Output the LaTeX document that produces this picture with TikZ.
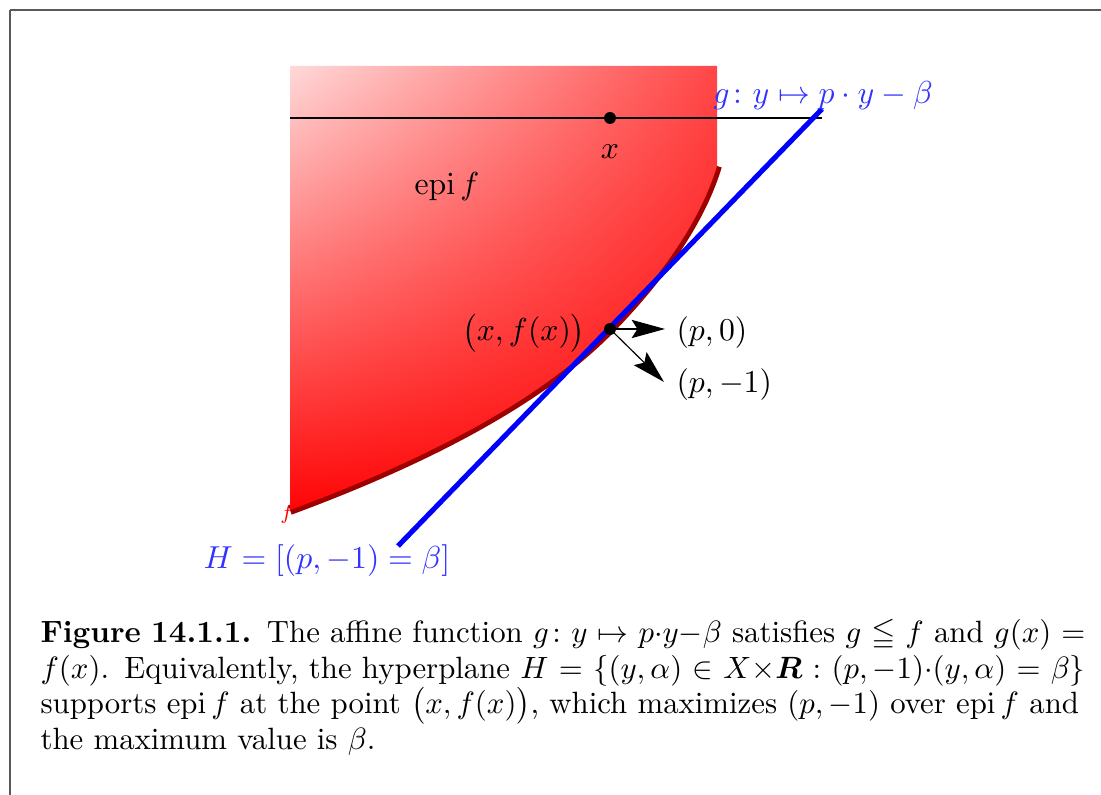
\documentclass[tikz,border=0pt]{standalone}
\usepackage{amsmath,amssymb,bm}
\usetikzlibrary{arrows.meta,shadings}
\newcommand{\figfont}{\fontsize{10.95}{12.25}\selectfont}
\newcommand{\capfont}{\fontsize{10.95}{12.62}\selectfont}
\newcommand{\capline}[1]{\hbox to\linewidth{#1}}
\begin{document}
\begin{tikzpicture}[x=0.3448pt,y=-0.3448pt,
  lbl/.style={inner sep=0pt, font=\figfont},
  bluelbl/.style={lbl, text=blue!80},
  vec/.style={-{Stealth[length=11.5pt,width=6.3pt,inset=2pt]}, line width=0.4pt},
  blackdot/.style={circle, fill=black, inner sep=0pt, minimum size=4.1pt},
  frameline/.style={black!65, line width=0.6pt},
  hyper/.style={blue, line width=1.75pt},
  graphf/.style={red!62!black, line width=3.4pt}]
\useasboundingbox (0,0) rectangle (1101,795);
% frame
\draw[frameline] (10,10) -- (1101,10);
\draw[frameline] (10,10) -- (10,795);
% small label f at end of graph
\node[inner sep=0pt, text=red, font=\scriptsize] (fl) at (287,514) {$f$};
% graph of f (dark red) below the fill
\draw[graphf] (290,510) .. controls (440,454.5) and (546.7,394.1) .. (610,329)
  .. controls (665.8,271.5) and (701.5,217.2) .. (717,166);
% epigraph
\shade[upper left=red!15, upper right=red!72, lower left=red!98, lower right=red]
  (290,66) -- (717,66) -- (717,166) .. controls (701.5,217.2) and (665.8,271.5) .. (610,329)
  .. controls (546.7,394.1) and (440,454.5) .. (290,510) -- cycle;
% horizontal space X
\coordinate (Xl) at (290,118);
\coordinate (Xr) at (822,118);
\draw[line width=0.4pt] (Xl) -- (Xr);
\node[blackdot] (xdot) at (610,118) {};
\node[lbl] (xl) at (610,152) {$x$};
\node[lbl] (epi) at (447,187) {$\operatorname{epi} f$};
% hyperplane
\coordinate (Hb) at (398,546);
\coordinate (Ht) at (822,109);
\draw[hyper] (Hb) -- (Ht);
\node[bluelbl] (gl) at (823,96) {$g\colon y\mapsto p\cdot y-\beta$};
\node[bluelbl] (Hl) at (327,561) {$H=[(p,-1)=\beta]$};
% point (x,f(x)) and vectors
\node[blackdot] (P) at (610,329) {};
\coordinate (A0) at (665,329);
\coordinate (A1) at (664,382);
\draw[vec] (P.center) -- (A0);
\draw[vec] (P.center) -- (A1);
\node[lbl, anchor=east] (xfx) at (586,333) {$\bigl(x,f(x)\bigr)$};
\node[lbl, anchor=west] (p0) at (676,333) {$(p,0)$};
\node[lbl, anchor=west] (pm1) at (676,385) {$(p,-1)$};
% caption
\node[anchor=north west, inner sep=0pt, scale=0.97, transform shape, text width=371.4pt, font=\capfont] (cap) at (40,619)
{\capline{\textbf{Figure 14.1.1.} The affine function $g\colon y\mapsto p{\cdot}y{-}\beta$ satisfies $g\leqq f$ and $g(x) =$}
\capline{$f(x)$. Equivalently, the hyperplane $H=\{(y,\alpha)\in X{\times}\boldsymbol{R} : (p,-1){\cdot}(y,\alpha)=\beta\}$}
\capline{supports $\operatorname{epi} f$ at the point $\bigl(x,f(x)\bigr)$, which maximizes $(p,-1)$ over $\operatorname{epi} f$ and}
\capline{the maximum value is $\beta$.\hfil}};
\end{tikzpicture}
\end{document}
